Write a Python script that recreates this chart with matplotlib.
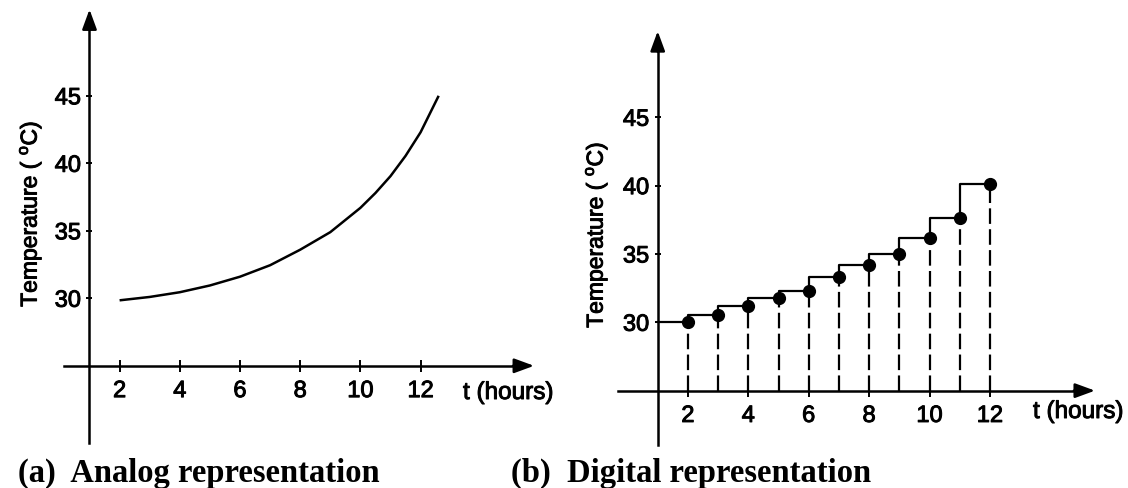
import matplotlib
matplotlib.use('Agg')
import matplotlib.pyplot as plt
import matplotlib.patheffects as pe

plt.rcParams['font.family'] = ['Liberation Sans', 'DejaVu Sans']
plt.rcParams['mathtext.fontset'] = 'custom'
plt.rcParams['mathtext.rm'] = 'Liberation Sans'

# Panel (a): analog curve
analog_t = [2, 3, 4, 5, 6, 7, 8, 9, 10, 10.5, 11, 11.5, 12, 12.6]
analog_temp = [29.85, 30.1, 30.45, 30.95, 31.6, 32.45, 33.6, 34.9, 36.7, 37.8, 39.05, 40.55, 42.3, 45.0]

# Panel (b): sampled values, one per hour
sample_t = [2, 3, 4, 5, 6, 7, 8, 9, 10, 11, 12]
sample_temp = [30.0, 30.5, 31.2, 31.75, 32.3, 33.3, 34.2, 35.0, 36.2, 37.6, 40.1]
start_temp = 30.0  # level held before the first sample

xtick_vals = [2, 4, 6, 8, 10, 12]
ytick_vals = [30, 35, 40, 45]

W, H = 1128, 488
thick = [pe.withStroke(linewidth=0.7, foreground='black')]


def place(fig, x0, kx, y30, ky, xlim, ylim):
    # x0: pixel of t=0, kx: px per hour, y30: pixel of 30 C, ky: px per degree
    left = x0 + kx * xlim[0]
    right = x0 + kx * xlim[1]
    top = y30 - ky * (ylim[1] - 30)
    bottom = y30 - ky * (ylim[0] - 30)
    ax = fig.add_axes([left / W, 1 - bottom / H, (right - left) / W, (bottom - top) / H])
    ax.set_xlim(*xlim)
    ax.set_ylim(*ylim)
    return ax


def style_axes(ax, xspan, yspan, yaxis_x=1.0, xaxis_y=25.0):
    ax.patch.set_visible(False)
    for s in ['top', 'right']:
        ax.spines[s].set_visible(False)
    ax.spines['left'].set_position(('data', yaxis_x))
    ax.spines['bottom'].set_position(('data', xaxis_y))
    ax.spines['left'].set_bounds(yspan[0], yspan[1] - 0.5)
    ax.spines['bottom'].set_bounds(xspan[0], xspan[1] - 0.3)
    for s in ['left', 'bottom']:
        ax.spines[s].set_linewidth(1.8)
    ax.set_xticks(xtick_vals)
    ax.set_yticks(ytick_vals)
    ax.tick_params(axis='x', direction='inout', length=8.6, width=1.4, pad=6, labelsize=17)
    ax.tick_params(axis='y', direction='inout', length=4.3, width=1.4, pad=4, labelsize=17)
    for lab in ax.get_xticklabels() + ax.get_yticklabels():
        lab.set_path_effects(thick)
    # Arrow heads at the axis ends
    head = dict(arrowstyle='-|>,head_length=0.6,head_width=0.22', mutation_scale=20,
                lw=1.8, color='black', shrinkA=0, shrinkB=0)
    ax.annotate('', xy=(yaxis_x, yspan[1]), xytext=(yaxis_x, yspan[1] - 1.5), arrowprops=head)
    ax.annotate('', xy=(xspan[1], xaxis_y), xytext=(xspan[1] - 0.7, xaxis_y), arrowprops=head)


fig = plt.figure(figsize=(11.28, 4.88), dpi=100)

# (a) Analog
ax1 = place(fig, 59.4, 30.1, 298.3, 13.5, (-1.9, 16.5), (18, 52))
style_axes(ax1, xspan=(0.14, 15.77), yspan=(19.3, 51.4))
ax1.plot(analog_t, analog_temp, color='black', lw=1.8, solid_capstyle='butt')

# (b) Digital
ax2 = place(fig, 627.5, 30.2, 322.3, 13.67, (-1.0, 16.5), (19, 52.5))
style_axes(ax2, xspan=(-0.31, 15.48), yspan=(21.0, 51.3))
ax2.step([1] + sample_t, [start_temp] + sample_temp, where='pre', color='black', lw=1.6)
ax2.vlines(sample_t, 25, sample_temp, colors='black', lw=1.6, linestyles=(0, (7, 2.4)))
ax2.plot(sample_t, sample_temp, 'o', color='black', ms=8.5)

# Axis titles
ylab = r'Temperature ( $^{\mathregular{o}}$C)'
for (px, py) in [(30, 214), (596, 235)]:
    fig.text(px / W, 1 - py / H, ylab, rotation=90, ha='center', va='center',
             fontsize=16.5, path_effects=thick)
for (px, py) in [(463, 393), (1033, 412)]:
    fig.text(px / W, 1 - py / H, 't (hours)', ha='left', va='center',
             fontsize=17.5, path_effects=thick)

# Captions
for (px, txt) in [(18, '(a)  Analog representation'), (511, '(b)  Digital representation')]:
    fig.text(px / W, 1 - 482 / H, txt, family='Liberation Serif', weight='bold',
             fontsize=23.5, ha='left', va='baseline')

fig.savefig('out.png', dpi=100)
plt.close(fig)
